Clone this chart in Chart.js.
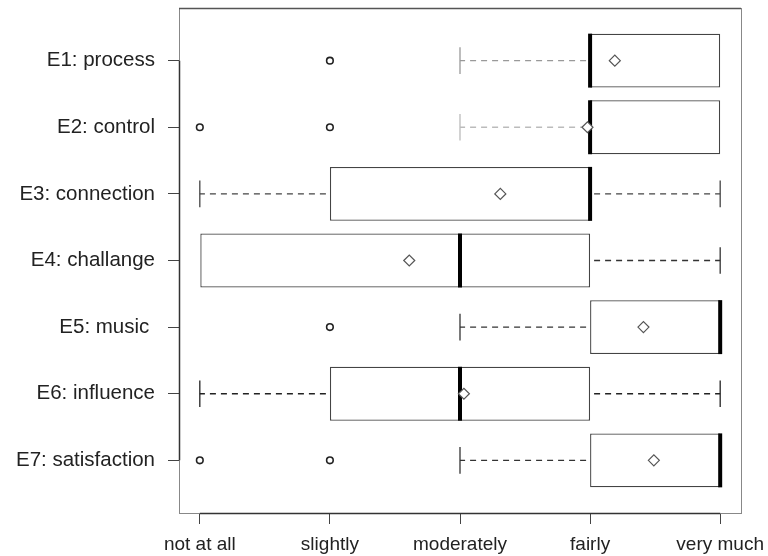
<!DOCTYPE html>
<html>
<head>
<meta charset="utf-8">
<script src="https://cdn.jsdelivr.net/npm/chart.js@4/dist/chart.umd.min.js"></script>
<style>
html,body{margin:0;padding:0;background:#fff;}
#wrap{width:768px;height:556px;}
</style>
</head>
<body>
<div id="wrap"><canvas id="box"></canvas></div>
<script>
// items, top to bottom
const categories=["E1: process","E2: control","E3: connection","E4: challange","E5: music ","E6: influence","E7: satisfaction"];
const levels=["not at all","slightly","moderately","fairly","very much"];

// five-number summaries (0 = not at all ... 4 = very much)
const whiskerLow=[2,2,0,0,2,0,2];
const q1=[3,3,1,0,3,1,3];
const medians=[3,3,3,2,4,2,4];
const q3=[4,4,3,3,4,3,4];
const whiskerHigh=[4,4,4,4,4,4,4];
const means=[3.19,2.98,2.31,1.61,3.41,2.03,3.49];
const outliers=[[1],[0,1],[],[],[1],[],[0,1]];

const whiskerColors=["#999","#bbb","#444","#333","#333","#222","#333"];

let outlierPts=[];
outliers.forEach((o,i)=>{
o.forEach(v=>outlierPts.push({x:v,y:i+1}));
});

const boxExtras={
id:"boxExtras",
afterDatasetDraw(chart,args){
if(args.index!==0)return;
const ctx=chart.ctx;
const xs=chart.scales.x, ys=chart.scales.y;
const half=0.2;
ctx.save();
categories.forEach((c,i)=>{
const y=ys.getPixelForValue(i+1);
const capTop=ys.getPixelForValue(i+1-half), capBot=ys.getPixelForValue(i+1+half);
ctx.strokeStyle=whiskerColors[i];
ctx.lineWidth=1.3;
// lower whisker
if(whiskerLow[i]<q1[i]){
ctx.setLineDash([6,5]);
ctx.beginPath();
ctx.moveTo(xs.getPixelForValue(q1[i])-4,y);
ctx.lineTo(xs.getPixelForValue(whiskerLow[i]),y);
ctx.stroke();
ctx.setLineDash([]);
ctx.beginPath();
ctx.moveTo(xs.getPixelForValue(whiskerLow[i]),capTop);
ctx.lineTo(xs.getPixelForValue(whiskerLow[i]),capBot);
ctx.stroke();
}
// upper whisker
if(whiskerHigh[i]>q3[i]){
ctx.setLineDash([6,5]);
ctx.beginPath();
ctx.moveTo(xs.getPixelForValue(q3[i])+4,y);
ctx.lineTo(xs.getPixelForValue(whiskerHigh[i]),y);
ctx.stroke();
ctx.setLineDash([]);
ctx.beginPath();
ctx.moveTo(xs.getPixelForValue(whiskerHigh[i]),capTop);
ctx.lineTo(xs.getPixelForValue(whiskerHigh[i]),capBot);
ctx.stroke();
}
// median
const bt=ys.getPixelForValue(i+1-0.405), bb=ys.getPixelForValue(i+1+0.405);
ctx.strokeStyle="#000";
ctx.lineWidth=4;
ctx.beginPath();
ctx.moveTo(xs.getPixelForValue(medians[i]),bt);
ctx.lineTo(xs.getPixelForValue(medians[i]),bb);
ctx.stroke();
});
ctx.restore();
},
afterDraw(chart){
const ctx=chart.ctx, a=chart.chartArea;
const xs=chart.scales.x, ys=chart.scales.y;
ctx.save();
ctx.strokeStyle="#888";
ctx.lineWidth=1;
ctx.strokeRect(a.left+0.5,a.top+0.5,a.right-a.left,a.bottom-a.top);
ctx.strokeStyle="#333";
ctx.lineWidth=1.5;
ctx.beginPath();
ctx.moveTo(xs.getPixelForValue(0),a.bottom+0.5);
ctx.lineTo(xs.getPixelForValue(levels.length-1),a.bottom+0.5);
ctx.moveTo(a.left+0.5,ys.getPixelForValue(1));
ctx.lineTo(a.left+0.5,ys.getPixelForValue(categories.length));
ctx.stroke();
ctx.strokeStyle="#555";
ctx.beginPath();
ctx.moveTo(a.left,a.top+0.5);
ctx.lineTo(a.right,a.top+0.5);
ctx.stroke();
ctx.restore();
}
};

new Chart(document.getElementById("box"),{
type:"scatter",
data:{
datasets:[
{
type:"bar",
indexAxis:"y",
data:categories.map((c,i)=>({x:[q1[i],q3[i]],y:i+1})),
backgroundColor:"#fff",
borderColor:"#444",
borderWidth:1.3,
borderSkipped:false,
barPercentage:0.81,
categoryPercentage:1,
order:3
},
{
data:outlierPts,
pointStyle:"circle",
pointRadius:3.3,
pointBorderWidth:1.6,
pointBorderColor:"#222",
pointBackgroundColor:"#fff",
order:2
},
{
data:means.map((m,i)=>({x:m,y:i+1})),
pointStyle:"rectRot",
pointRadius:5.5,
pointBorderWidth:1.2,
pointBorderColor:"#555",
pointBackgroundColor:"#fff",
order:1
}
]
},
options:{
responsive:true,
maintainAspectRatio:false,
animation:false,
layout:{padding:{top:8,right:27,left:0,bottom:0}},
plugins:{legend:{display:false},tooltip:{enabled:false}},
scales:{
x:{
type:"linear",
offset:false,
min:-0.16,
max:4.16,
afterBuildTicks:s=>{s.ticks=levels.map((l,i)=>({value:i}));},
afterFit:s=>{s.height=43;s.paddingLeft=0;s.paddingRight=0;},
ticks:{callback:v=>levels[v],color:"#222",font:{family:"'Liberation Sans', Arial, sans-serif",size:19},padding:9,maxRotation:0,autoSkip:false},
grid:{offset:false,drawOnChartArea:false,drawTicks:true,tickLength:11,color:"#444"},
border:{display:false}
},
y:{
type:"linear",
offset:false,
reverse:true,
min:0.21,
max:7.79,
afterBuildTicks:s=>{s.ticks=categories.map((c,i)=>({value:i+1}));},
afterFit:s=>{s.width=179;s.paddingTop=0;s.paddingBottom=0;},
ticks:{callback:v=>categories[v-1],color:"#222",font:{family:"'Liberation Sans', Arial, sans-serif",size:20.5},padding:13,autoSkip:false},
grid:{offset:false,drawOnChartArea:false,drawTicks:true,tickLength:11,color:"#444"},
border:{display:false}
}
}
},
plugins:[boxExtras]
});
</script>
</body>
</html>
